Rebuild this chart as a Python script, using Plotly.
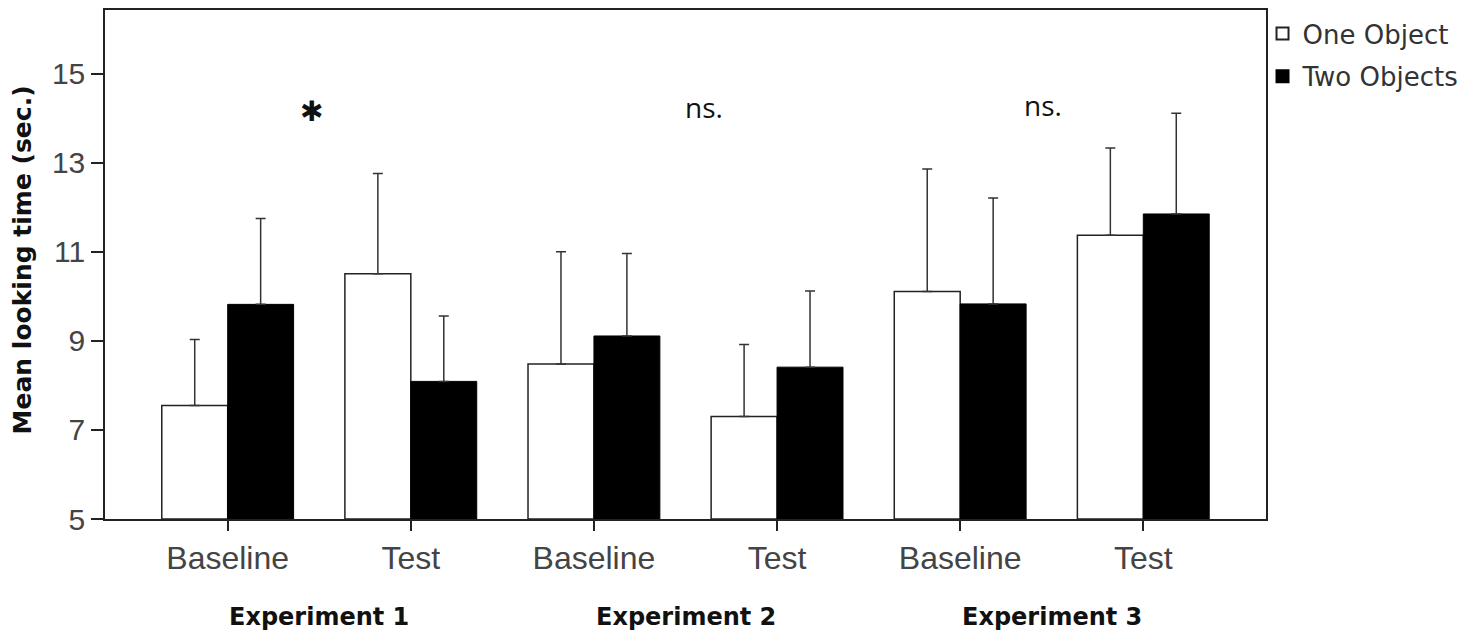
import plotly.graph_objects as go

# conditions along the x axis (two per experiment)
conditions = ["Baseline", "Test", "Baseline", "Test", "Baseline", "Test"]
experiments = ["Experiment 1", "Experiment 2", "Experiment 3"]

# mean looking time (sec.) and upper error (SE)
one_mean = [7.55, 10.51, 8.48, 7.30, 10.11, 11.37]
one_err = [1.48, 2.25, 2.52, 1.62, 2.75, 1.96]
two_mean = [9.82, 8.09, 9.11, 8.41, 9.83, 11.85]
two_err = [1.93, 1.47, 1.85, 1.71, 2.38, 2.26]

# significance marks above each experiment
sig_text = ["✱", "ns.", "ns."]
sig_x = [0.46, 2.60, 4.45]
sig_y = [14.15, 14.25, 14.3]

xpos = list(range(len(conditions)))
thin_font = "Liberation Sans, Arial, sans-serif"
bold_font = "DejaVu Sans, Verdana, sans-serif"

fig = go.Figure()
fig.add_trace(go.Bar(
    x=xpos, y=[m - 5 for m in one_mean], base=5, name="One Object", legendgroup="one",
    marker=dict(color="white", line=dict(color="#222", width=1.5)),
    error_y=dict(type="data", symmetric=False, array=one_err, arrayminus=[0] * 6,
                 color="#333", thickness=1.5, width=5),
))
fig.add_trace(go.Bar(
    x=xpos, y=[m - 5 for m in two_mean], base=5, name="Two Objects", legendgroup="two",
    marker=dict(color="black", line=dict(color="black", width=1)),
    error_y=dict(type="data", symmetric=False, array=two_err, arrayminus=[0] * 6,
                 color="#333", thickness=1.5, width=5),
))

for t, x, y in zip(sig_text, sig_x, sig_y):
    if t == "ns.":
        f = dict(family="Open Sans, sans-serif", size=28, color="#111")
    else:
        f = dict(family="DejaVu Sans, sans-serif", size=28, color="#111")
    fig.add_annotation(x=x, y=y, text=t, showarrow=False, font=f, yanchor="middle")

for i, name in enumerate(experiments):
    fig.add_annotation(x=2 * i + 0.5, y=-0.192, yref="paper", text="<b>%s</b>" % name,
                       showarrow=False, yanchor="middle",
                       font=dict(family=bold_font, size=24, color="#111"))

# y axis title
fig.add_annotation(x=-0.0715, y=0.51, xref="paper", yref="paper", textangle=-90,
                   text="<b>Mean looking time (sec.)</b>", showarrow=False,
                   xanchor="center", yanchor="middle",
                   font=dict(family=bold_font, size=25, color="#111"))

fig.update_layout(
    width=1483, height=642,
    margin=dict(l=97, r=225, t=0, b=131),
    paper_bgcolor="white", plot_bgcolor="white",
    barmode="group", bargap=0.28, bargroupgap=0,
    showlegend=True,
    legend=dict(x=0.997, y=1.0, xanchor="left", yanchor="top",
                bgcolor="rgba(0,0,0,0)",
                font=dict(family="DejaVu Sans, sans-serif", size=26, color="#333"),
                tracegroupgap=6, itemsizing="constant"),
    xaxis=dict(
        range=[-0.67, 5.67], tickmode="array", tickvals=xpos, ticktext=conditions,
        ticks="outside", ticklen=10, tickwidth=1.5, tickcolor="#222",
        showline=True, linecolor="#222", linewidth=1.5, mirror=True,
        showgrid=False, zeroline=False,
        tickfont=dict(family=thin_font, size=32, color="#444"),
    ),
    yaxis=dict(
        range=[5, 16.43], tickvals=[5, 7, 9, 11, 13, 15],
        ticks="outside", ticklen=12, tickwidth=1.5, tickcolor="#222",
        showline=True, linecolor="#222", linewidth=1.5, mirror=True,
        showgrid=False, zeroline=False,
        tickfont=dict(family=thin_font, size=30, color="#444"),
    ),
)

fig.write_html("out.html")
